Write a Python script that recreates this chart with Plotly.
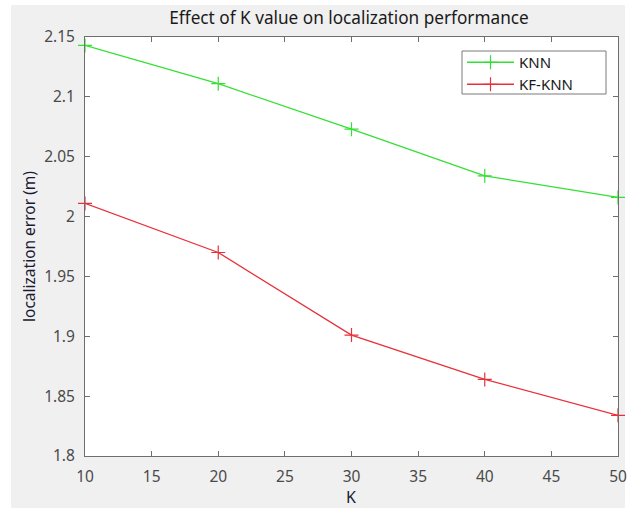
import plotly.graph_objects as go

K = [10, 20, 30, 40, 50]
knn = [2.143, 2.111, 2.073, 2.034, 2.016]
kf_knn = [2.011, 1.970, 1.901, 1.864, 1.834]
x_ticks = [10, 15, 20, 25, 30, 35, 40, 45, 50]
y_ticks = [1.8, 1.85, 1.9, 1.95, 2.0, 2.05, 2.1, 2.15]
y_tick_text = ["1.8", "1.85", "1.9", "1.95", "2", "2.05", "2.1", "2.15"]

FONT = "Noto Sans, Open Sans, sans-serif"
AX = "#6e6e6e"

fig = go.Figure()
fig.add_trace(go.Scatter(
    x=K, y=knn, name="KNN", mode="lines+markers", legend="legend",
    line=dict(color="#33e033", width=1.3),
    marker=dict(symbol="cross-thin-open", size=10, line=dict(color="#11c011", width=1.2)),
    cliponaxis=False,
))
fig.add_trace(go.Scatter(
    x=K, y=kf_knn, name="KF-KNN", mode="lines+markers", legend="legend2",
    line=dict(color="#e8303a", width=1.3),
    marker=dict(symbol="cross-thin-open", size=10, line=dict(color="#cc1020", width=1.2)),
    cliponaxis=False,
))

axis_common = dict(
    showline=True, linecolor=AX, linewidth=1, mirror="ticks",
    ticks="inside", ticklen=5, tickcolor=AX, showgrid=False, zeroline=False,
    tickfont=dict(family=FONT, size=15.5, color="#4a4a4a"),
    automargin=False,
)

legend_common = dict(
    x=(462 - 85) / 533, xanchor="left", yanchor="top",
    bgcolor="rgba(0,0,0,0)", borderwidth=0,
    font=dict(family=FONT, size=15, color="#1a1a1a"),
    tracegroupgap=0, itemwidth=47,
)

fig.update_layout(
    width=633, height=508,
    margin=dict(l=85, r=15, t=37, b=52),
    paper_bgcolor="#f0f0f0", plot_bgcolor="white",
    title=dict(text="Effect of K value on localization performance",
               x=(349 - 85) / 533, xref="paper", xanchor="center",
               y=1 - 18 / 508, yanchor="middle",
               font=dict(family=FONT, size=17.2, color="#1a1a1a")),
    xaxis=dict(range=[10, 50], tickvals=x_ticks, ticklabelstandoff=6, **axis_common),
    yaxis=dict(range=[1.8, 2.15], tickvals=y_ticks, ticktext=y_tick_text, ticklabelstandoff=6,
               title=dict(text="localization error (m)", standoff=4,
                          font=dict(family=FONT, size=15.5, color="#1a1a33")),
               **axis_common),
    legend=dict(y=(456 - 46) / 419, **legend_common),
    legend2=dict(y=(456 - 68) / 419, **legend_common),
    showlegend=True,
)

# x-axis title
fig.add_annotation(text="K", xref="paper", yref="paper",
                   x=(351 - 85) / 533, y=(456 - 497) / 419,
                   xanchor="center", yanchor="middle", showarrow=False,
                   font=dict(family=FONT, size=16, color="#1a1a33"))

# legend box
fig.add_shape(type="rect", xref="paper", yref="paper",
              x0=(462 - 85) / 533, x1=(606 - 85) / 533,
              y0=(456 - 94) / 419, y1=(456 - 51) / 419,
              fillcolor="white", line=dict(color="#7a7a7a", width=1), layer="above")

# white strips at the left, top and right edges of the picture
fig.add_shape(type="rect", xref="paper", yref="paper",
              x0=-85 / 533, x1=-74 / 533, y0=-52 / 419, y1=456 / 419,
              fillcolor="white", line=dict(width=0), layer="below")
fig.add_shape(type="rect", xref="paper", yref="paper",
              x0=-85 / 533, x1=548 / 533, y0=451 / 419, y1=456 / 419,
              fillcolor="white", line=dict(width=0), layer="below")
fig.add_shape(type="rect", xref="paper", yref="paper",
              x0=540 / 533, x1=548 / 533, y0=-52 / 419, y1=456 / 419,
              fillcolor="white", line=dict(width=0), layer="below")

fig.write_html("out.html")
